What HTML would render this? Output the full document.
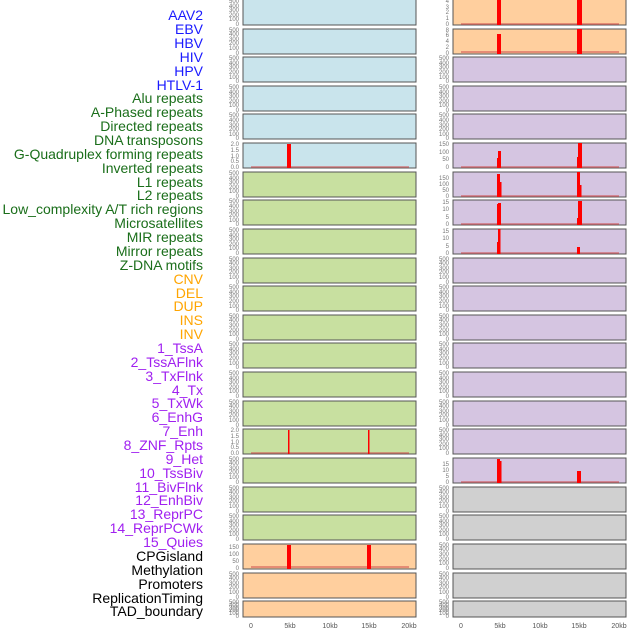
<!DOCTYPE html>
<html><head><meta charset="utf-8"><style>
html,body{margin:0;padding:0;background:#fff;}
svg{display:block;font-family:"Liberation Sans",sans-serif;}
.l{font-size:14px;text-anchor:end;}
.t{font-size:6px;fill:#777;text-anchor:end;}
.x{font-size:7px;fill:#555;text-anchor:middle;}
.p{stroke:#555;stroke-width:1;}
.b{fill:#c9e4ec}.g{fill:#c8e0a0}.o{fill:#ffcf9e}.u{fill:#d5c5e1}.y{fill:#d0d0d0}
.r{fill:#f00}
.bl{stroke:#d05050;stroke-width:1.5;opacity:.7}
</style></head><body>
<svg width="630" height="630" viewBox="0 0 630 630">
<!-- labels -->
<g class="l">
<text x="203" y="20" fill="#1a1aff">AAV2</text>
<text x="203" y="34" fill="#1a1aff">EBV</text>
<text x="203" y="48" fill="#1a1aff">HBV</text>
<text x="203" y="62" fill="#1a1aff">HIV</text>
<text x="203" y="76" fill="#1a1aff">HPV</text>
<text x="203" y="90" fill="#1a1aff">HTLV-1</text>
<text x="203" y="103" fill="#1a6e1a">Alu repeats</text>
<text x="203" y="117" fill="#1a6e1a">A-Phased repeats</text>
<text x="203" y="131" fill="#1a6e1a">Directed repeats</text>
<text x="203" y="145" fill="#1a6e1a">DNA transposons</text>
<text x="203" y="159" fill="#1a6e1a">G-Quadruplex forming repeats</text>
<text x="203" y="173" fill="#1a6e1a">Inverted repeats</text>
<text x="203" y="187" fill="#1a6e1a">L1 repeats</text>
<text x="203" y="200" fill="#1a6e1a">L2 repeats</text>
<text x="203" y="214" fill="#1a6e1a">Low_complexity A/T rich regions</text>
<text x="203" y="228" fill="#1a6e1a">Microsatellites</text>
<text x="203" y="242" fill="#1a6e1a">MIR repeats</text>
<text x="203" y="256" fill="#1a6e1a">Mirror repeats</text>
<text x="203" y="270" fill="#1a6e1a">Z-DNA motifs</text>
<text x="203" y="284" fill="#ffa500">CNV</text>
<text x="203" y="298" fill="#ffa500">DEL</text>
<text x="203" y="311" fill="#ffa500">DUP</text>
<text x="203" y="325" fill="#ffa500">INS</text>
<text x="203" y="339" fill="#ffa500">INV</text>
<text x="203" y="353" fill="#a020f0">1_TssA</text>
<text x="203" y="367" fill="#a020f0">2_TssAFlnk</text>
<text x="203" y="381" fill="#a020f0">3_TxFlnk</text>
<text x="203" y="395" fill="#a020f0">4_Tx</text>
<text x="203" y="408" fill="#a020f0">5_TxWk</text>
<text x="203" y="422" fill="#a020f0">6_EnhG</text>
<text x="203" y="436" fill="#a020f0">7_Enh</text>
<text x="203" y="450" fill="#a020f0">8_ZNF_Rpts</text>
<text x="203" y="464" fill="#a020f0">9_Het</text>
<text x="203" y="478" fill="#a020f0">10_TssBiv</text>
<text x="203" y="492" fill="#a020f0">11_BivFlnk</text>
<text x="203" y="505" fill="#a020f0">12_EnhBiv</text>
<text x="203" y="519" fill="#a020f0">13_ReprPC</text>
<text x="203" y="533" fill="#a020f0">14_ReprPCWk</text>
<text x="203" y="547" fill="#a020f0">15_Quies</text>
<text x="203" y="561" fill="#000">CPGisland</text>
<text x="203" y="575" fill="#000">Methylation</text>
<text x="203" y="589" fill="#000">Promoters</text>
<text x="203" y="603" fill="#000">ReplicationTiming</text>
<text x="203" y="616" fill="#000">TAD_boundary</text>
</g>

<!-- left panels -->
<g class="p">
<rect x="243" y="-1" width="173" height="26" class="b"/>
<rect x="243" y="29" width="173" height="25" class="b"/>
<rect x="243" y="57" width="173" height="25" class="b"/>
<rect x="243" y="86" width="173" height="25" class="b"/>
<rect x="243" y="114" width="173" height="25" class="b"/>
<rect x="243" y="143" width="173" height="25" class="b"/>
<rect x="243" y="172" width="173" height="25" class="g"/>
<rect x="243" y="200" width="173" height="25" class="g"/>
<rect x="243" y="229" width="173" height="25" class="g"/>
<rect x="243" y="258" width="173" height="25" class="g"/>
<rect x="243" y="286" width="173" height="25" class="g"/>
<rect x="243" y="315" width="173" height="25" class="g"/>
<rect x="243" y="343" width="173" height="25" class="g"/>
<rect x="243" y="372" width="173" height="25" class="g"/>
<rect x="243" y="401" width="173" height="25" class="g"/>
<rect x="243" y="429" width="173" height="25" class="g"/>
<rect x="243" y="458" width="173" height="25" class="g"/>
<rect x="243" y="487" width="173" height="25" class="g"/>
<rect x="243" y="515" width="173" height="25" class="g"/>
<rect x="243" y="544" width="173" height="25" class="o"/>
<rect x="243" y="573" width="173" height="25" class="o"/>
<rect x="243" y="601" width="173" height="16" class="o"/>
</g>
<!-- right panels -->
<g class="p">
<rect x="453" y="-1" width="173" height="26" class="o"/>
<rect x="453" y="29" width="173" height="25" class="o"/>
<rect x="453" y="57" width="173" height="25" class="u"/>
<rect x="453" y="86" width="173" height="25" class="u"/>
<rect x="453" y="114" width="173" height="25" class="u"/>
<rect x="453" y="143" width="173" height="25" class="u"/>
<rect x="453" y="172" width="173" height="25" class="u"/>
<rect x="453" y="200" width="173" height="25" class="u"/>
<rect x="453" y="229" width="173" height="25" class="u"/>
<rect x="453" y="258" width="173" height="25" class="u"/>
<rect x="453" y="286" width="173" height="25" class="u"/>
<rect x="453" y="315" width="173" height="25" class="u"/>
<rect x="453" y="343" width="173" height="25" class="u"/>
<rect x="453" y="372" width="173" height="25" class="u"/>
<rect x="453" y="401" width="173" height="25" class="u"/>
<rect x="453" y="429" width="173" height="25" class="u"/>
<rect x="453" y="458" width="173" height="25" class="u"/>
<rect x="453" y="487" width="173" height="25" class="y"/>
<rect x="453" y="515" width="173" height="25" class="y"/>
<rect x="453" y="544" width="173" height="25" class="y"/>
<rect x="453" y="573" width="173" height="25" class="y"/>
<rect x="453" y="601" width="173" height="16" class="y"/>
</g>

<!-- baselines -->
<g class="bl">
<line x1="251" x2="409" y1="167" y2="167"/>
<line x1="251" x2="409" y1="453" y2="453"/>
<line x1="251" x2="409" y1="567" y2="567"/>
<line x1="461" x2="619" y1="24" y2="24"/>
<line x1="461" x2="619" y1="52" y2="52"/>
<line x1="461" x2="619" y1="167" y2="167"/>
<line x1="461" x2="619" y1="196" y2="196"/>
<line x1="461" x2="619" y1="224" y2="224"/>
<line x1="461" x2="619" y1="253" y2="253"/>
<line x1="461" x2="619" y1="482" y2="482"/>
</g>

<!-- bars -->
<g class="r">
<rect x="287" y="144" width="4" height="24"/>
<rect x="288" y="430" width="1.5" height="24"/>
<rect x="368" y="430" width="1.5" height="24"/>
<rect x="287" y="545" width="4" height="24"/>
<rect x="367" y="545" width="4" height="24"/>

<rect x="497" y="0" width="4" height="25"/>
<rect x="577" y="0" width="5" height="25"/>
<rect x="497" y="34" width="4" height="20"/>
<rect x="577" y="29" width="5" height="25"/>
<rect x="497" y="158" width="1.5" height="10"/>
<rect x="498" y="151" width="3" height="17"/>
<rect x="577" y="157" width="1.5" height="11"/>
<rect x="578" y="143" width="4" height="25"/>
<rect x="497" y="174" width="3" height="23"/>
<rect x="500" y="182" width="1.5" height="15"/>
<rect x="577" y="172" width="3" height="25"/>
<rect x="580" y="185" width="1.5" height="12"/>
<rect x="497" y="204" width="1.5" height="21"/>
<rect x="498" y="203" width="3" height="22"/>
<rect x="577" y="218" width="1.5" height="7"/>
<rect x="578" y="201" width="4" height="24"/>
<rect x="497" y="242" width="1.5" height="12"/>
<rect x="498" y="229" width="2.5" height="25"/>
<rect x="577" y="247" width="3" height="7"/>
<rect x="497" y="459" width="3" height="24"/>
<rect x="500" y="461" width="1.5" height="22"/>
<rect x="577" y="471" width="4" height="12"/>
</g>

<!-- y ticks left -->
<g class="t">
<text x="239" y="3">500</text><text x="239" y="8">400</text><text x="239" y="12">300</text><text x="239" y="17">200</text><text x="239" y="21">100</text><text x="239" y="26">0</text>
<text x="239" y="32">500</text><text x="239" y="36">400</text><text x="239" y="41">300</text><text x="239" y="45">200</text><text x="239" y="50">100</text><text x="239" y="55">0</text>
<text x="239" y="60">500</text><text x="239" y="65">400</text><text x="239" y="69">300</text><text x="239" y="74">200</text><text x="239" y="79">100</text><text x="239" y="83">0</text>
<text x="239" y="89">500</text><text x="239" y="94">400</text><text x="239" y="98">300</text><text x="239" y="103">200</text><text x="239" y="107">100</text><text x="239" y="112">0</text>
<text x="239" y="117">500</text><text x="239" y="122">400</text><text x="239" y="127">300</text><text x="239" y="131">200</text><text x="239" y="136">100</text><text x="239" y="140">0</text>
<text x="239" y="146">2.0</text><text x="239" y="152">1.5</text><text x="239" y="158">1.0</text><text x="239" y="163">0.5</text><text x="239" y="169">0.0</text>
<text x="239" y="175">500</text><text x="239" y="180">400</text><text x="239" y="184">300</text><text x="239" y="189">200</text><text x="239" y="193">100</text><text x="239" y="198">0</text>
<text x="239" y="203">500</text><text x="239" y="208">400</text><text x="239" y="213">300</text><text x="239" y="217">200</text><text x="239" y="222">100</text><text x="239" y="226">0</text>
<text x="239" y="232">500</text><text x="239" y="237">400</text><text x="239" y="241">300</text><text x="239" y="246">200</text><text x="239" y="250">100</text><text x="239" y="255">0</text>
<text x="239" y="261">500</text><text x="239" y="265">400</text><text x="239" y="270">300</text><text x="239" y="274">200</text><text x="239" y="279">100</text><text x="239" y="284">0</text>
<text x="239" y="289">500</text><text x="239" y="294">400</text><text x="239" y="298">300</text><text x="239" y="303">200</text><text x="239" y="308">100</text><text x="239" y="312">0</text>
<text x="239" y="318">500</text><text x="239" y="322">400</text><text x="239" y="327">300</text><text x="239" y="332">200</text><text x="239" y="336">100</text><text x="239" y="341">0</text>
<text x="239" y="346">500</text><text x="239" y="351">400</text><text x="239" y="355">300</text><text x="239" y="360">200</text><text x="239" y="365">100</text><text x="239" y="369">0</text>
<text x="239" y="375">500</text><text x="239" y="380">400</text><text x="239" y="384">300</text><text x="239" y="389">200</text><text x="239" y="393">100</text><text x="239" y="398">0</text>
<text x="239" y="404">500</text><text x="239" y="408">400</text><text x="239" y="413">300</text><text x="239" y="417">200</text><text x="239" y="422">100</text><text x="239" y="427">0</text>
<text x="239" y="432">2.0</text><text x="239" y="438">1.5</text><text x="239" y="444">1.0</text><text x="239" y="449">0.5</text><text x="239" y="455">0.0</text>
<text x="239" y="461">500</text><text x="239" y="465">400</text><text x="239" y="470">300</text><text x="239" y="474">200</text><text x="239" y="479">100</text><text x="239" y="484">0</text>
<text x="239" y="490">500</text><text x="239" y="494">400</text><text x="239" y="499">300</text><text x="239" y="503">200</text><text x="239" y="508">100</text><text x="239" y="513">0</text>
<text x="239" y="518">500</text><text x="239" y="523">400</text><text x="239" y="527">300</text><text x="239" y="532">200</text><text x="239" y="536">100</text><text x="239" y="541">0</text>
<text x="239" y="549">150</text><text x="239" y="556">100</text><text x="239" y="563">50</text><text x="239" y="570">0</text>
<text x="239" y="576">500</text><text x="239" y="580">400</text><text x="239" y="585">300</text><text x="239" y="589">200</text><text x="239" y="594">100</text><text x="239" y="599">0</text>
<text x="239" y="604">500</text><text x="239" y="607">400</text><text x="239" y="610">300</text><text x="239" y="612">200</text><text x="239" y="615">100</text><text x="239" y="618">0</text>
</g>
<!-- y ticks right -->
<g class="t">
<text x="449" y="3">4</text><text x="449" y="9">3</text><text x="449" y="14">2</text><text x="449" y="20">1</text><text x="449" y="26">0</text>
<text x="449" y="32">8</text><text x="449" y="37">6</text><text x="449" y="43">4</text><text x="449" y="49">2</text><text x="449" y="55">0</text>
<text x="449" y="60">500</text><text x="449" y="65">400</text><text x="449" y="69">300</text><text x="449" y="74">200</text><text x="449" y="79">100</text><text x="449" y="83">0</text>
<text x="449" y="89">500</text><text x="449" y="94">400</text><text x="449" y="98">300</text><text x="449" y="103">200</text><text x="449" y="107">100</text><text x="449" y="112">0</text>
<text x="449" y="117">500</text><text x="449" y="122">400</text><text x="449" y="127">300</text><text x="449" y="131">200</text><text x="449" y="136">100</text><text x="449" y="140">0</text>
<text x="449" y="146">150</text><text x="449" y="154">100</text><text x="449" y="161">50</text><text x="449" y="169">0</text>
<text x="449" y="180">150</text><text x="449" y="186">100</text><text x="449" y="192">50</text><text x="449" y="198">0</text>
<text x="449" y="204">15</text><text x="449" y="211">10</text><text x="449" y="219">5</text><text x="449" y="226">0</text>
<text x="449" y="233">15</text><text x="449" y="240">10</text><text x="449" y="248">5</text><text x="449" y="255">0</text>
<text x="449" y="261">500</text><text x="449" y="265">400</text><text x="449" y="270">300</text><text x="449" y="274">200</text><text x="449" y="279">100</text><text x="449" y="284">0</text>
<text x="449" y="289">500</text><text x="449" y="294">400</text><text x="449" y="298">300</text><text x="449" y="303">200</text><text x="449" y="308">100</text><text x="449" y="312">0</text>
<text x="449" y="318">500</text><text x="449" y="322">400</text><text x="449" y="327">300</text><text x="449" y="332">200</text><text x="449" y="336">100</text><text x="449" y="341">0</text>
<text x="449" y="346">500</text><text x="449" y="351">400</text><text x="449" y="355">300</text><text x="449" y="360">200</text><text x="449" y="365">100</text><text x="449" y="369">0</text>
<text x="449" y="375">500</text><text x="449" y="380">400</text><text x="449" y="384">300</text><text x="449" y="389">200</text><text x="449" y="393">100</text><text x="449" y="398">0</text>
<text x="449" y="404">500</text><text x="449" y="408">400</text><text x="449" y="413">300</text><text x="449" y="417">200</text><text x="449" y="422">100</text><text x="449" y="427">0</text>
<text x="449" y="432">500</text><text x="449" y="437">400</text><text x="449" y="441">300</text><text x="449" y="446">200</text><text x="449" y="450">100</text><text x="449" y="455">0</text>
<text x="449" y="466">15</text><text x="449" y="472">10</text><text x="449" y="478">5</text><text x="449" y="484">0</text>
<text x="449" y="490">500</text><text x="449" y="494">400</text><text x="449" y="499">300</text><text x="449" y="503">200</text><text x="449" y="508">100</text><text x="449" y="513">0</text>
<text x="449" y="518">500</text><text x="449" y="523">400</text><text x="449" y="527">300</text><text x="449" y="532">200</text><text x="449" y="536">100</text><text x="449" y="541">0</text>
<text x="449" y="547">500</text><text x="449" y="551">400</text><text x="449" y="556">300</text><text x="449" y="561">200</text><text x="449" y="565">100</text><text x="449" y="570">0</text>
<text x="449" y="576">500</text><text x="449" y="580">400</text><text x="449" y="585">300</text><text x="449" y="589">200</text><text x="449" y="594">100</text><text x="449" y="599">0</text>
<text x="449" y="604">500</text><text x="449" y="607">400</text><text x="449" y="610">300</text><text x="449" y="612">200</text><text x="449" y="615">100</text><text x="449" y="618">0</text>
</g>
<!-- x ticks -->
<g class="x">
<text x="251" y="628">0</text><text x="290" y="628">5kb</text><text x="330" y="628">10kb</text><text x="369" y="628">15kb</text><text x="409" y="628">20kb</text>
<text x="461" y="628">0</text><text x="500" y="628">5kb</text><text x="540" y="628">10kb</text><text x="579" y="628">15kb</text><text x="619" y="628">20kb</text>
</g>
</svg>
</body></html>
